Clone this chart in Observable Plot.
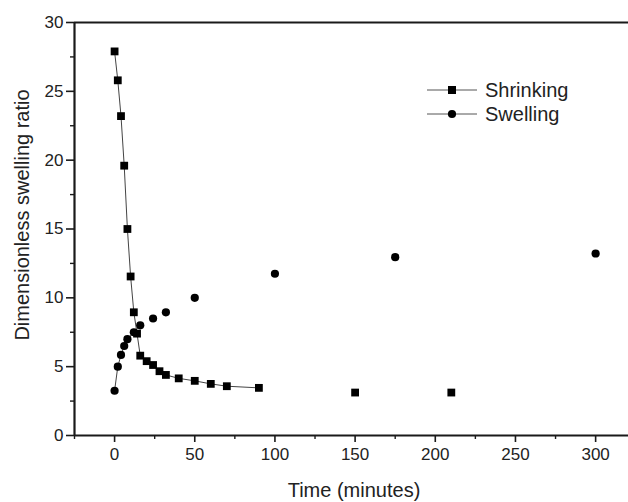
<!DOCTYPE html>
<html>
<head>
<meta charset="utf-8">
<script src="https://cdn.jsdelivr.net/npm/d3@7"></script>
<script src="https://cdn.jsdelivr.net/npm/@observablehq/plot@0.6"></script>
<style>
  html, body { margin: 0; padding: 0; background: #fff; }
  #chart svg { display: block; font-family: "Liberation Sans", Arial, Helvetica, sans-serif; }
</style>
</head>
<body>
<div id="chart"></div>
<script>
// ---- data ----
const shrinkTime  = [0, 2, 4, 6, 8, 10, 12, 14, 16, 20, 24, 28, 32, 40, 50, 60, 70, 90, 150, 210];
const shrinkRatio = [27.9, 25.8, 23.2, 19.6, 15.0, 11.55, 8.95, 7.4, 5.8, 5.4, 5.12, 4.67, 4.4, 4.15, 3.97, 3.75, 3.58, 3.46, 3.12, 3.12];
const shrinkLineEnd = 90;   // connecting line drawn up to this time

const swellTime  = [0, 2, 4, 6, 8, 12, 16, 24, 32, 50, 100, 175, 300];
const swellRatio = [3.25, 5.0, 5.85, 6.5, 7.0, 7.5, 8.0, 8.5, 8.95, 10.0, 11.75, 12.95, 13.22];
const swellLineEnd = 16;

const xMajorTicks = [0, 50, 100, 150, 200, 250, 300];
const xMinorTicks = [-25, 25, 75, 125, 175, 225, 275];
const yMajorTicks = [0, 5, 10, 15, 20, 25, 30];
const yMinorTicks = [2.5, 7.5, 12.5, 17.5, 22.5, 27.5];

const seriesNames = ["Shrinking", "Swelling"];
const xTitle = "Time (minutes)";
const yTitle = "Dimensionless swelling ratio";

// ---- tables ----
const shrink = shrinkTime.map((t, i) => ({t, v: shrinkRatio[i]}));
const swell = swellTime.map((t, i) => ({t, v: swellRatio[i]}));

const ink = "#1a1a1a";
const fontSize = 17;
const titleSize = "20px";

const chart = Plot.plot({
  width: 628,
  height: 502,
  marginLeft: 74,
  marginRight: 0,
  marginTop: 22,
  marginBottom: 67,
  style: {fontFamily: "'Liberation Sans', Arial, Helvetica, sans-serif", fontSize: fontSize + "px", color: ink, background: "#fff"},
  x: {domain: [-25, 320.5]},
  y: {domain: [0, 30]},
  marks: [
    Plot.axisX({ticks: xMajorTicks, tickSize: 7, tickPadding: 5, label: null, stroke: ink, strokeWidth: 1.6, fill: "#222", fontSize: fontSize}),
    Plot.axisX({ticks: xMinorTicks, tickSize: 4, tickFormat: () => "", label: null, stroke: ink, strokeWidth: 1.4}),
    Plot.axisY({ticks: yMajorTicks, tickSize: 8, tickPadding: 3, label: null, stroke: ink, strokeWidth: 1.6, fill: "#222", fontSize: fontSize}),
    Plot.axisY({ticks: yMinorTicks, tickSize: 4, tickFormat: () => "", label: null, stroke: ink, strokeWidth: 1.4}),
    Plot.ruleY([0], {stroke: ink, strokeWidth: 2.2}),
    Plot.ruleY([30], {stroke: ink, strokeWidth: 2.2}),
    Plot.ruleX([-25], {stroke: ink, strokeWidth: 2.2}),
    Plot.line(shrink.filter(d => d.t <= shrinkLineEnd), {x: "t", y: "v", stroke: "#444", strokeWidth: 1}),
    Plot.line(swell.filter(d => d.t <= swellLineEnd), {x: "t", y: "v", stroke: "#444", strokeWidth: 1}),
    Plot.dot(shrink, {x: "t", y: "v", symbol: "square", r: 4.4, fill: "#000", stroke: "none"}),
    Plot.dot(swell, {x: "t", y: "v", symbol: "circle", r: 4.1, fill: "#000", stroke: "none"})
  ]
});

document.getElementById("chart").appendChild(chart);

// ---- axis titles and legend ----
const svg = d3.select(chart);
const xs = chart.scale("x");
const xMid = (xs.range[0] + xs.range[1]) / 2 + 3;

svg.append("text")
  .attr("x", xMid).attr("y", 497)
  .attr("text-anchor", "middle")
  .attr("fill", "#222")
  .style("font-size", titleSize)
  .text(xTitle);

svg.append("text")
  .attr("transform", "translate(29,215) rotate(-90)")
  .attr("text-anchor", "middle")
  .attr("fill", "#222")
  .style("font-size", titleSize)
  .text(yTitle);

const legend = svg.append("g").attr("transform", "translate(427,90)");
seriesNames.forEach((name, i) => {
  const g = legend.append("g").attr("transform", `translate(0,${i * 24})`);
  g.append("line").attr("x1", 0).attr("x2", 50).attr("y1", 0).attr("y2", 0)
    .attr("stroke", "#555").attr("stroke-width", 1);
  if (i === 0) {
    g.append("rect").attr("x", 21).attr("y", -4).attr("width", 8).attr("height", 8).attr("fill", "#000");
  } else {
    g.append("circle").attr("cx", 25).attr("cy", 0).attr("r", 4.1).attr("fill", "#000");
  }
  g.append("text").attr("x", 58).attr("y", 6.5)
    .attr("text-anchor", "start")
    .attr("fill", "#222")
    .style("font-size", titleSize)
    .text(name);
});
</script>
</body>
</html>
